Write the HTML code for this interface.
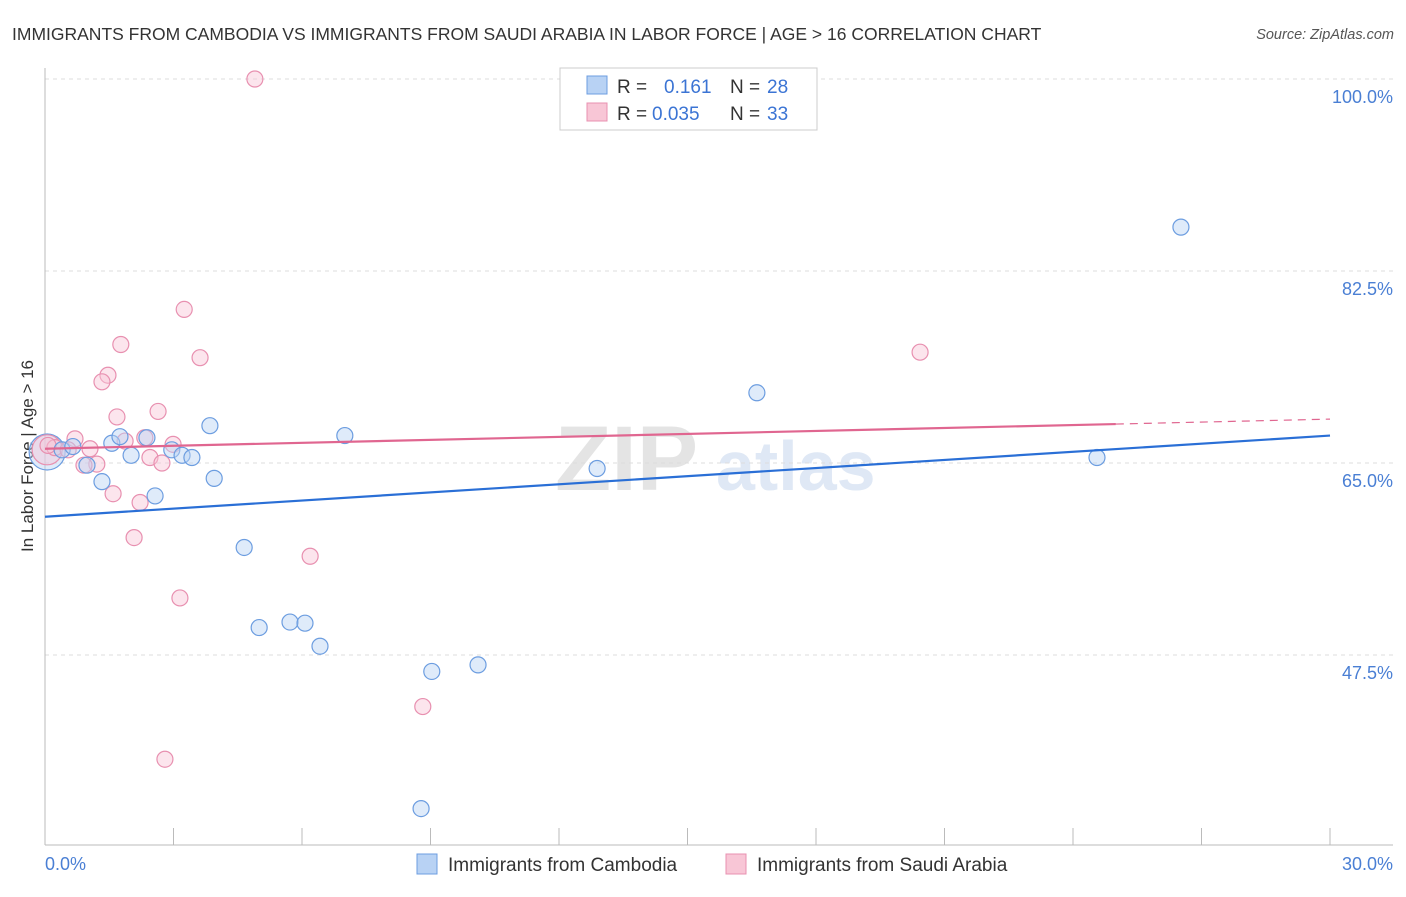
<!DOCTYPE html>
<html><head><meta charset="utf-8"><style>
body{margin:0;background:#fff;font-family:"Liberation Sans",sans-serif}
svg text{font-family:"Liberation Sans",sans-serif}
</style></head><body>
<svg id="chart" width="1406" height="892" xmlns="http://www.w3.org/2000/svg">
<text x="12" y="40" font-size="17.5" fill="#333">IMMIGRANTS FROM CAMBODIA VS IMMIGRANTS FROM SAUDI ARABIA IN LABOR FORCE | AGE &gt; 16 CORRELATION CHART</text>
<text x="1394" y="39" font-size="14.5" fill="#555" font-style="italic" text-anchor="end">Source: ZipAtlas.com</text>
<text x="555" y="490" font-size="92" fill="#e4e4e4" font-family="Liberation Serif" font-weight="bold">ZIP</text>
<text x="716" y="490" font-size="70" fill="#dfe8f5" font-weight="bold">atlas</text>
<text transform="translate(33,456) rotate(-90)" font-size="17" fill="#333" text-anchor="middle">In Labor Force | Age &gt; 16</text>
<g id="grid"></g><g id="axes"></g><g id="marks"></g>
<g>
<rect x="560" y="68" width="257" height="62" fill="#fff" stroke="#ccc"/>
<rect x="587" y="76" width="20" height="18" fill="#b8d2f4" stroke="#6c9de0"/>
<text x="617" y="93" font-size="19" fill="#333">R = </text><text x="664" y="93" font-size="19" fill="#3b74d4">0.161</text>
<text x="730" y="93" font-size="19" fill="#333">N = </text><text x="767" y="93" font-size="19" fill="#3b74d4">28</text>
<rect x="587" y="103" width="20" height="18" fill="#f8c6d6" stroke="#e890b0"/>
<text x="617" y="120" font-size="19" fill="#333">R = </text><text x="652" y="120" font-size="19" fill="#3b74d4">0.035</text>
<text x="730" y="120" font-size="19" fill="#333">N = </text><text x="767" y="120" font-size="19" fill="#3b74d4">33</text>
</g>
<g>
<rect x="417" y="854" width="20" height="20" fill="#b8d2f4" stroke="#6c9de0"/>
<text x="448" y="871" font-size="19" fill="#333">Immigrants from Cambodia</text>
<rect x="726" y="854" width="20" height="20" fill="#f8c6d6" stroke="#e890b0"/>
<text x="757" y="871" font-size="19" fill="#333">Immigrants from Saudi Arabia</text>
</g>
</svg>
<script>
const yTicks=[100,82.5,65,47.5];
const yTickLabels=["100.0%","82.5%","65.0%","47.5%"];
const xTickCount=10;
const xLabels=["0.0%","30.0%"];
const blueX=[0.40,0.65,0.98,1.33,1.56,1.75,2.01,2.38,2.57,2.96,3.20,3.43,3.85,3.95,4.65,5.00,5.72,6.07,6.42,7.00,9.03,10.11,8.78,12.89,16.62,24.56,26.52];
const blueY=[66.2,66.5,64.8,63.3,66.8,67.4,65.7,67.3,62.0,66.2,65.7,65.5,68.4,63.6,57.3,50.0,50.5,50.4,48.3,67.5,46.0,46.6,33.5,64.5,71.4,65.5,86.5];
const pinkX=[4.90,3.25,1.77,3.62,1.47,1.33,2.64,1.68,0.70,1.87,2.33,2.99,1.05,0.23,0.54,2.45,2.73,1.21,0.91,1.59,2.22,2.08,6.19,3.15,8.82,2.80,20.43,0.07];
const pinkY=[100,79.0,75.8,74.6,73.0,72.4,69.7,69.2,67.2,67.0,67.3,66.7,66.3,66.4,66.2,65.5,65.0,64.9,64.8,62.2,61.4,58.2,56.5,52.7,42.8,38.0,75.1,66.6];
const blueTrend=[60.1,67.5];
const pinkTrend=[66.3,69.0];
const pinkSolidEnd=25.0;
const X0=45,X1=1330;
const xs=v=>X0+v/30*(X1-X0);
const ys=v=>79+(100-v)*(192/17.5);
const NS="http://www.w3.org/2000/svg";
function mk(t,a,p){const e=document.createElementNS(NS,t);for(const k in a)e.setAttribute(k,a[k]);document.getElementById(p).appendChild(e);return e;}
yTicks.forEach((v,i)=>{
 const g=mk('line',{x1:X0,x2:1393,y1:ys(v),y2:ys(v),stroke:'#ddd','stroke-dasharray':'4,4'},'grid');
 
 
 const t=mk('text',{x:1393,y:ys(v)+24,'font-size':18,fill:'#4a7fd4','text-anchor':'end'},'axes');
 t.textContent=yTickLabels[i];
 
 
});
const ax=mk('line',{x1:X0,x2:X0,y1:68,y2:845,stroke:'#bbb'},'axes');


const bx=mk('line',{x1:X0,x2:1393,y1:845,y2:845,stroke:'#bbb'},'axes');


for(let i=0;i<=xTickCount;i++){const x=X0+i*(X1-X0)/xTickCount;
 const l=mk('line',{x1:x,x2:x,y1:828,y2:845,stroke:'#bbb'},'axes');
 
 }
[[45,'start',0],[1393,'end',1]].forEach(([x,a,i])=>{const t=mk('text',{x:x,y:870,'font-size':18,fill:'#4a7fd4','text-anchor':a},'axes');t.textContent=xLabels[i];
 
 });
function dot(x,y,r,f,s,n){const c=mk('circle',{cx:xs(x),cy:ys(y),r:r,fill:f,'fill-opacity':0.45,stroke:s,'stroke-width':1.2},'marks');
 
 }
dot(0.05,66.0,18,'#b8d2f4','#6c9de0','cambodia-point');
dot(0.05,66.2,15,'#f8c6d6','#e890b0','saudi-point');
pinkX.forEach((x,i)=>dot(x,pinkY[i],8,'#f8c6d6','#e890b0','saudi-point'));
blueX.forEach((x,i)=>dot(x,blueY[i],8,'#b8d2f4','#6c9de0','cambodia-point'));
const bl=mk('line',{x1:xs(0),y1:ys(blueTrend[0]),x2:xs(30),y2:ys(blueTrend[1]),stroke:'#2a6fd6','stroke-width':2.2},'marks');


const pe=pinkTrend[0]+(pinkTrend[1]-pinkTrend[0])*pinkSolidEnd/30;
const pl=mk('line',{x1:xs(0),y1:ys(pinkTrend[0]),x2:xs(pinkSolidEnd),y2:ys(pe),stroke:'#e06690','stroke-width':2.2},'marks');


const pd=mk('line',{x1:xs(pinkSolidEnd),y1:ys(pe),x2:xs(30),y2:ys(pinkTrend[1]),stroke:'#e06690','stroke-width':1.2,'stroke-dasharray':'8,6'},'marks');


</script>
</body></html>
